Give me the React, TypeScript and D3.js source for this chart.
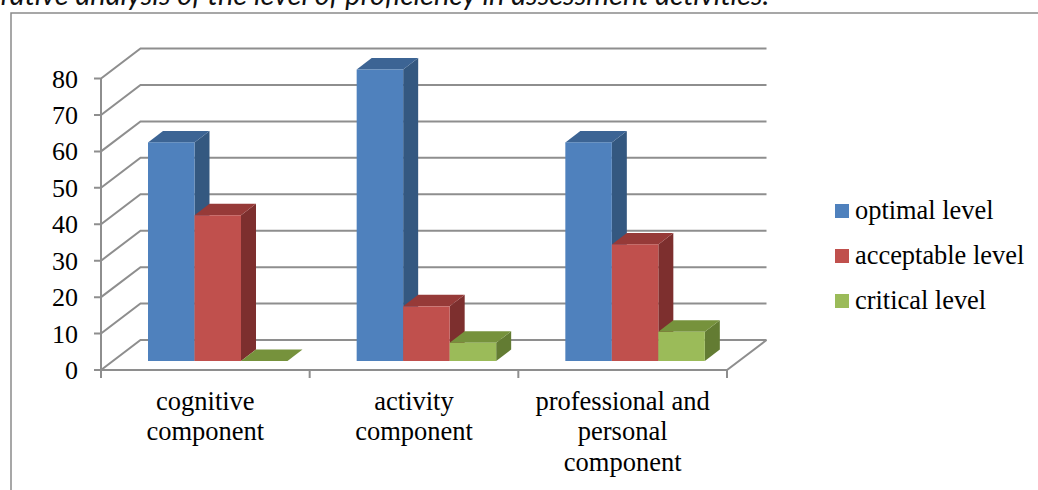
import React from "react";
import * as d3 from "d3";

const categories = [
  ["cognitive", "component"],
  ["activity", "component"],
  ["professional and", "personal", "component"],
];
const categoryKeys = ["cognitive", "activity", "professional"];
const seriesNames = ["optimal level", "acceptable level", "critical level"];
const optimalLevel = [60, 80, 60];
const acceptableLevel = [40, 15, 32];
const criticalLevel = [0, 5, 8];
const seriesValues = [optimalLevel, acceptableLevel, criticalLevel];
const yTicks = [0, 10, 20, 30, 40, 50, 60, 70, 80];
const heading = "Comparative analysis of the level of proficiency in assessment activities.";

const faceColors = ["#4f81bd", "#c0504d", "#9bbb59"];
const topColors = ["#3c6494", "#963a38", "#76923c"];
const sideColors = ["#345880", "#7d2f2e", "#637c33"];
const gridColor = "#8e8e8e";
const serif = "'Liberation Serif', serif";

// Oblique projection: the back wall sits up and to the right of the front plane.
const wallDx = 39.5;
const wallDy = -30;
const barDx = 15;
const barDy = -11.5;
const floorLift = 9;

const x = d3.scaleBand<string>().domain(categoryKeys).range([101, 727]);
const y = d3.scaleLinear().domain([0, 80]).range([370, 78.5]);
// Bars sit towards the middle of the floor depth, so the group is shifted inside its band.
const series = d3.scaleBand<string>().domain(seriesNames).range([47, 186.5]);

const poly = (pts: [number, number][]) => pts.map((p) => p.join(",")).join(" ");

export default function App() {
  return (
    <svg
      width={1038}
      height={490}
      viewBox="0 0 1038 490"
      style={{ position: "absolute", left: 0, top: 0, background: "#fff", display: "block" }}
    >
      <text x={-85} y={5} fontFamily="Lato, sans-serif" fontStyle="italic" fontSize={29} fill="#111">
        {heading}
      </text>
      <path d="M11,490V13H1038" fill="none" stroke="#8a8a8a" strokeWidth={1.5} />

      {yTicks.map((t) => (
        <g key={t}>
          <polyline
            points={poly([
              [94, y(t)],
              [101, y(t)],
              [101 + wallDx, y(t) + wallDy],
              [727 + wallDx, y(t) + wallDy],
            ])}
            fill="none"
            stroke={gridColor}
            strokeWidth={2}
          />
          <text x={78} y={y(t) + 9} textAnchor="end" fontFamily={serif} fontSize={26} fill="#000">
            {t}
          </text>
        </g>
      ))}
      <line x1={101} x2={101} y1={y(80)} y2={378} stroke={gridColor} strokeWidth={2} />
      <polyline
        points={poly([
          [101, y(0)],
          [727, y(0)],
          [727 + wallDx, y(0) + wallDy],
        ])}
        fill="none"
        stroke={gridColor}
        strokeWidth={2}
      />
      {[...categoryKeys.map((k) => x(k)!), 727].map((tx) => (
        <line key={tx} x1={tx} x2={tx} y1={370} y2={378} stroke={gridColor} strokeWidth={2} />
      ))}

      {categoryKeys.map((key, c) => (
        <g key={key}>
          {seriesNames.map((name, s) => {
            const x0 = x(key)! + series(name)!;
            const x1 = x0 + series.bandwidth();
            const base = y(0) - floorLift;
            const top = y(seriesValues[s][c]) - floorLift;
            return (
              <g key={name}>
                <polygon
                  points={poly([
                    [x1, top],
                    [x1 + barDx, top + barDy],
                    [x1 + barDx, base + barDy],
                    [x1, base],
                  ])}
                  fill={sideColors[s]}
                />
                <polygon
                  points={poly([
                    [x0, top],
                    [x0 + barDx, top + barDy],
                    [x1 + barDx, top + barDy],
                    [x1, top],
                  ])}
                  fill={topColors[s]}
                />
                <rect x={x0} y={top} width={x1 - x0} height={base - top} fill={faceColors[s]} />
              </g>
            );
          })}
          <text textAnchor="middle" fontFamily={serif} fontSize={26.5} fill="#000">
            {categories[c].map((line, i) => (
              <tspan key={line} x={x(key)! + x.bandwidth() / 2} y={409.5 + i * 30.5}>
                {line}
              </tspan>
            ))}
          </text>
        </g>
      ))}

      {seriesNames.map((name, s) => (
        <g key={name} transform={`translate(835,${204 + s * 45})`}>
          <rect width={14} height={14} fill={faceColors[s]} />
          <text x={20} y={14.5} fontFamily={serif} fontSize={26.4} fill="#000">
            {name}
          </text>
        </g>
      ))}
    </svg>
  );
}
